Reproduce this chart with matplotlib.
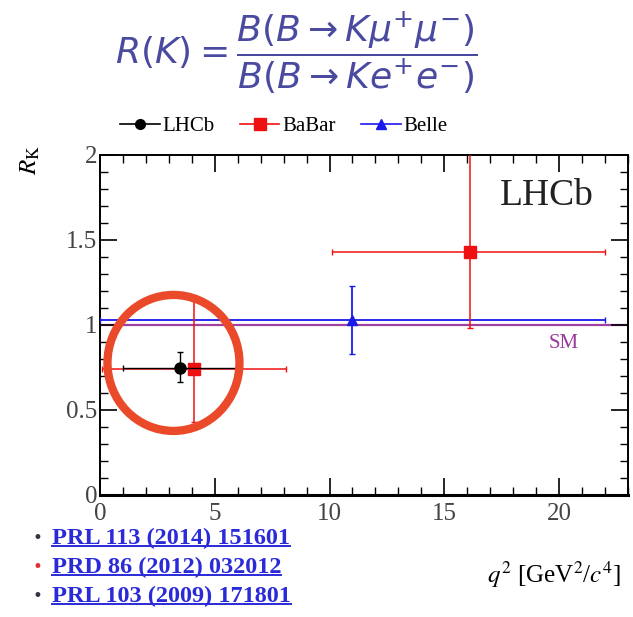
import matplotlib.pyplot as plt
from matplotlib.patches import Ellipse
from matplotlib.lines import Line2D
from matplotlib.ticker import MultipleLocator

plt.rcParams['mathtext.fontset'] = 'stix'

# LHCb (1 < q2 < 6)
lhcb_q2 = [3.5]
lhcb_q2_lo = [1.0]
lhcb_q2_hi = [6.0]
lhcb_rk = [0.745]
lhcb_err_dn = [0.082]
lhcb_err_up = [0.097]

# BaBar, two bins
babar_q2 = [4.1, 16.1]
babar_q2_lo = [0.1, 10.11]
babar_q2_hi = [8.12, 22.0]
babar_rk = [0.74, 1.43]
babar_err_dn = [0.31, 0.45]
babar_err_up = [0.40, 0.60]

# Belle, full range
belle_q2 = [11.0]
belle_q2_lo = [0.0]
belle_q2_hi = [22.0]
belle_rk = [1.03]
belle_err_dn = [0.20]
belle_err_up = [0.20]

sm_value = 1.0

refs = ['PRL 113 (2014) 151601', 'PRD 86 (2012) 032012', 'PRL 103 (2009) 171801']
ref_bullet_colors = ['#333344', '#e03030', '#333344']

serif = ['Liberation Serif', 'DejaVu Serif']

fig = plt.figure(figsize=(6.33, 6.17), dpi=100)
ax = fig.add_axes([0.158, 0.198, 0.834, 0.551])


def xerr(x, lo, hi):
    return [[a - b for a, b in zip(x, lo)], [c - a for a, c in zip(x, hi)]]


# SM line
ax.axhline(sm_value, color='#a040a0', lw=1.6, zorder=1)

ax.errorbar(belle_q2, belle_rk, xerr=xerr(belle_q2, belle_q2_lo, belle_q2_hi),
            yerr=[belle_err_dn, belle_err_up], fmt='^', color='#1a1aee', ms=7,
            elinewidth=1.3, capsize=2, zorder=3)
ax.errorbar(babar_q2, babar_rk, xerr=xerr(babar_q2, babar_q2_lo, babar_q2_hi),
            yerr=[babar_err_dn, babar_err_up], fmt='s', color='#ee1111', ms=8,
            elinewidth=1.1, capsize=2, zorder=3)
ax.errorbar(lhcb_q2, lhcb_rk, xerr=xerr(lhcb_q2, lhcb_q2_lo, lhcb_q2_hi),
            yerr=[lhcb_err_dn, lhcb_err_up], fmt='o', color='black', ms=8,
            elinewidth=1.0, capsize=2, zorder=4)

# highlight circle round the LHCb point
ax.add_patch(Ellipse((3.2, 0.776), 5.75, 0.80, fill=False, ec='#ea4a2a',
                     lw=6, zorder=5))

ax.set_xlim(0, 23)
ax.set_ylim(0, 2)
ax.xaxis.set_minor_locator(MultipleLocator(1))
ax.yaxis.set_minor_locator(MultipleLocator(0.1))
ax.set_xticks([0, 5, 10, 15, 20])
ax.set_xticklabels(['0', '5', '10', '15', '20'])
ax.set_yticks([0, 0.5, 1, 1.5, 2])
ax.set_yticklabels(['0', '0.5', '1', '1.5', '2'])
ax.tick_params(which='both', direction='in', top=True, right=True,
               labelsize=18)
ax.tick_params(axis='y', pad=2)
ax.tick_params(axis='x', pad=6)
ax.tick_params(which='major', length=12, width=1.2)
ax.tick_params(which='minor', length=6, width=1.0)
for lab in ax.get_xticklabels() + ax.get_yticklabels():
    lab.set_family(serif)
    lab.set_color('#444444')
for s in ax.spines.values():
    s.set_linewidth(1.4)
ax.spines['bottom'].set_linewidth(2.2)

ax.text(0.935, 0.88, 'LHCb', transform=ax.transAxes, ha='right', va='center',
        fontsize=27, family=serif, color='#222222')
ax.text(20.2, 0.89, 'SM', ha='center', va='center', fontsize=15,
        family=serif, color='#9a3a9a')

ax.set_ylabel(r'$R_{\mathrm{K}}$', fontsize=18, family=serif)
ax.yaxis.set_label_coords(-0.11, 0.985)
ax.set_xlabel(r'$q^2$ [GeV$^2$/$c^4$]', fontsize=18, family=serif)
ax.xaxis.set_label_coords(0.86, -0.19)

handles = [
    Line2D([], [], color='black', marker='o', ms=7, lw=1.2),
    Line2D([], [], color='#ee1111', marker='s', ms=8, lw=1.2),
    Line2D([], [], color='#1a1aee', marker='^', ms=7, lw=1.2),
]
fig.legend(handles, ['LHCb', 'BaBar', 'Belle'], ncol=3,
           loc='center left', bbox_to_anchor=(0.16, 0.795), frameon=False,
           prop={'family': serif, 'size': 15}, handlelength=1.9,
           handletextpad=0.15, columnspacing=1.2)

# formula at the top
fig.text(0.468, 0.914,
         r'$R(K) = \dfrac{B(B \rightarrow K\mu^{+}\mu^{-})}{B(B \rightarrow Ke^{+}e^{-})}$',
         ha='center', va='center', fontsize=26, color='#4a4aa0',
         math_fontfamily='dejavusans')

# references with underline
ys = [0.128, 0.081, 0.034]
fig.canvas.draw()
r = fig.canvas.get_renderer()
for txt, bc, y in zip(refs, ref_bullet_colors, ys):
    fig.text(0.052, y, '\u2022', ha='left', va='center', fontsize=12, color=bc)
    t = fig.text(0.082, y, txt, ha='left', va='center', fontsize=17.5,
                 weight='bold', family=serif, color='#2a2ad8')
    bb = t.get_window_extent(r).transformed(fig.transFigure.inverted())
    fig.add_artist(Line2D([bb.x0, bb.x1], [bb.y0 + 0.004, bb.y0 + 0.004],
                          color='#2a2ad8', lw=1.4, transform=fig.transFigure))

fig.savefig('out.png', dpi=100)
